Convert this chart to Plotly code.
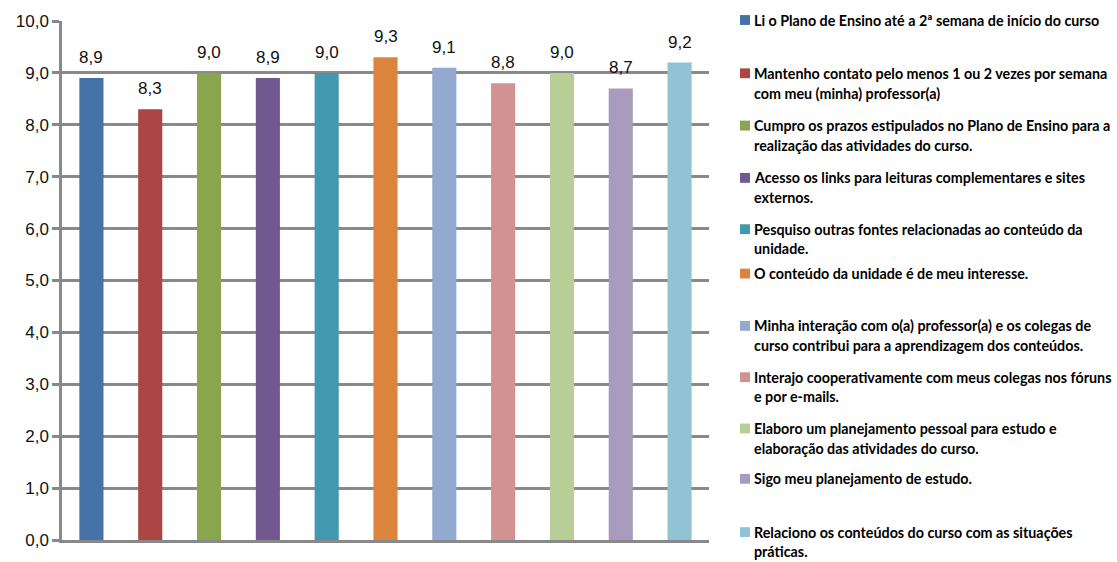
import plotly.graph_objects as go

# Itens avaliados (texto da legenda, quebras de linha com "\n")
itens = [
    "Li o Plano de Ensino até a 2ª semana de início do curso",
    "Mantenho contato pelo menos 1 ou 2 vezes por semana\ncom meu (minha) professor(a)",
    "Cumpro os prazos estipulados no Plano de Ensino para a\nrealização das atividades do curso.",
    "Acesso os links para leituras complementares e sites\nexternos.",
    "Pesquiso outras fontes relacionadas ao conteúdo da\nunidade.",
    "O conteúdo da unidade é de meu interesse.",
    "Minha interação com o(a) professor(a) e os colegas de\ncurso contribui para a aprendizagem dos conteúdos.",
    "Interajo cooperativamente com meus colegas nos fóruns\ne por e-mails.",
    "Elaboro um planejamento pessoal para estudo e\nelaboração das atividades do curso.",
    "Sigo meu planejamento de estudo.",
    "Relaciono os conteúdos do curso com as situações\npráticas.",
]

# Média das notas por item
medias = [8.9, 8.3, 9.0, 8.9, 9.0, 9.3, 9.1, 8.8, 9.0, 8.7, 9.2]

cores = [
    "#4572A7", "#AA4643", "#89A54E", "#71588F", "#4198AF", "#DB843D",
    "#93A9CF", "#D19392", "#B9CD96", "#A99BBD", "#92C3D4",
]

# Ticks do eixo Y
y_ticks = [0, 1, 2, 3, 4, 5, 6, 7, 8, 9, 10]

W, H = 1117, 562
L, R, T, B = 62, 709, 19, 545

FONTE_EIXO = "Liberation Sans, Arial, sans-serif"
FONTE_LEG = "Lato, Roboto, sans-serif"
CINZA = "#898989"


def px2x(px):
    return (px - L) / (R - L)


def py2y(py):
    return (B - py) / (B - T)


fig = go.Figure()
fig.add_trace(go.Bar(
    x=itens,
    y=medias,
    marker=dict(color=cores, line=dict(width=0)),
    width=0.41,
    showlegend=False,
    hoverinfo="skip",
))

# Rótulos de valor acima das barras
for cat, v in zip(itens, medias):
    fig.add_annotation(
        x=cat, y=v, xref="x", yref="y",
        text=f"{v:.1f}".replace(".", ","),
        showarrow=False, yanchor="bottom", yshift=9,
        font=dict(family=FONTE_EIXO, size=17, color="#111111"),
    )

# Legenda lateral
linha_topo = [18, 72, 125, 178, 230, 275, 328, 380, 432, 483, 537]
passo_linha = 20
for item, cor, yc in zip(itens, cores, linha_topo):
    fig.add_shape(
        type="rect", xref="paper", yref="paper",
        x0=px2x(740), x1=px2x(750), y0=py2y(yc + 5), y1=py2y(yc - 5),
        fillcolor=cor, line=dict(width=0),
    )
    for k, linha in enumerate(item.split("\n")):
        fig.add_annotation(
            x=px2x(752), y=py2y(yc + k * passo_linha),
            xref="paper", yref="paper",
            text=f"<b>{linha}</b>", showarrow=False,
            xanchor="left", yanchor="middle",
            font=dict(family=FONTE_LEG, size=14.3, color="#000000"),
        )

fig.update_layout(
    width=W, height=H,
    margin=dict(l=L, r=W - R, t=T, b=H - B),
    plot_bgcolor="white", paper_bgcolor="white",
    separators=",.",
    bargap=0.59,
    xaxis=dict(
        showticklabels=False, ticks="", showgrid=False,
        showline=True, linecolor=CINZA, linewidth=3, zeroline=False,
    ),
    yaxis=dict(
        range=[0, 10], tickvals=y_ticks, tickformat=".1f",
        showgrid=True, gridcolor=CINZA, gridwidth=2.5,
        showline=True, linecolor=CINZA, linewidth=2.5,
        ticks="outside", ticklen=7, tickwidth=2.5, tickcolor=CINZA,
        zeroline=False,
        tickfont=dict(family=FONTE_EIXO, size=17, color="#111111"),
    ),
)

fig.write_html("out.html")
